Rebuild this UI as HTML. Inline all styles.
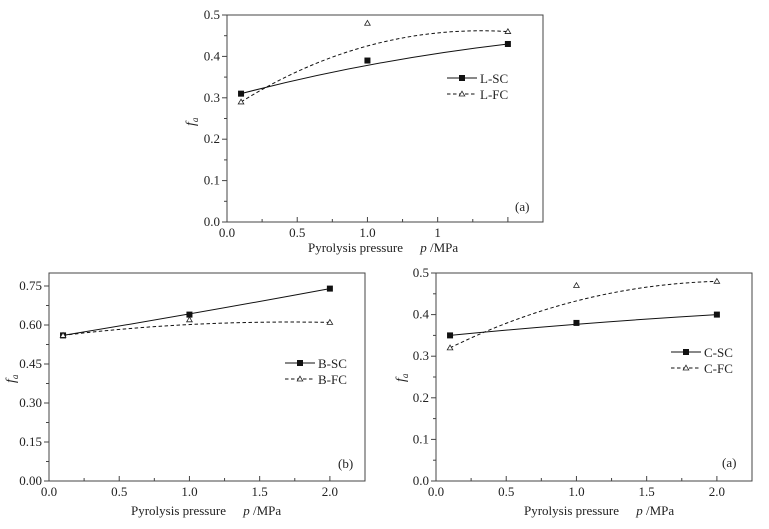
<!DOCTYPE html>
<html><head><meta charset="utf-8"><style>
body{margin:0;background:#fff}
svg text{font-family:"Liberation Serif",serif;fill:#222}
</style></head><body>
<svg id="s" width="769" height="524" xmlns="http://www.w3.org/2000/svg"></svg>
<script>
const xValues=[0.1,1.0,2.0];
const lscValues=[0.31,0.39,0.43];
const lfcValues=[0.29,0.48,0.46];
const bscValues=[0.56,0.64,0.74];
const bfcValues=[0.56,0.62,0.61];
const cscValues=[0.35,0.38,0.40];
const cfcValues=[0.32,0.47,0.48];
const xTickLabelsA=["0.0","0.5","1.0","1",""];
const xTickLabelsB=["0.0","0.5","1.0","1.5","2.0"];
const yTicksA=["0.0","0.1","0.2","0.3","0.4","0.5"];
const yTicksB=["0.00","0.15","0.30","0.45","0.60","0.75"];
const NS="http://www.w3.org/2000/svg";
const svg=document.getElementById('s');
function mk(tag,attrs,parent){const e=document.createElementNS(NS,tag);for(const k in attrs)e.setAttribute(k,attrs[k]);(parent||svg).appendChild(e);return e;}
function chart(o){
  const g=mk('g',{});
  
  
  const X=v=>o.x0+(v-0)/(2.25)*(o.x1-o.x0);
  const Y=v=>o.y1-(v/o.ymax)*(o.y1-o.y0);
  const box=mk('rect',{x:o.x0,y:o.y0,width:o.x1-o.x0,height:o.y1-o.y0,fill:'none',stroke:'#444','stroke-width':1},g);
  
  
  for(let i=0;i<=8;i++){const v=i*0.25,px=X(v);const major=i%2==0;
    mk('line',{x1:px,x2:px,y1:o.y1,y2:o.y1-(major?5:3),stroke:'#444'},g);
    if(major){const t=mk('text',{x:px,y:o.y1+15,'text-anchor':'middle','font-size':13},g);t.textContent=o.xl[i/2];
      
      }}
  const n=o.yl.length-1;const step=o.ystep;
  for(let i=0;i<=n*2;i++){const v=i*step/2;if(v>o.ymax+1e-9)break;const py=Y(v);const major=i%2==0;
    mk('line',{x1:o.x0,x2:o.x0-(major?5:3),y1:py,y2:py,stroke:'#444'},g);
    if(major){const t=mk('text',{x:o.x0-7,y:py+4,'text-anchor':'end','font-size':13},g);t.textContent=o.yl[i/2];
      
      }}
  o.series.forEach((s,k)=>{
    const p=xValues.map((x,i)=>[X(x),Y(s.v[i])]);
    const path=mk('path',{d:`M${p[0][0]},${p[0][1]} Q${p[1][0]},${p[1][1]} ${p[2][0]},${p[2][1]}`,fill:'none',stroke:'#111','stroke-width':1,'stroke-dasharray':s.dash?'3.5,2.5':'none'},g);
    
    
    p.forEach(q=>{const m=marker(q[0],q[1],s.dash,g);
      
      });
    const ly=o.leg[1]+k*16;
    const ll=mk('line',{x1:o.leg[0],x2:o.leg[0]+30,y1:ly,y2:ly,stroke:'#111','stroke-dasharray':s.dash?'3.5,2.5':'none'},g);
    
    
    marker(o.leg[0]+15,ly,s.dash,g);
    const lt=mk('text',{x:o.leg[0]+33,y:ly+5,'font-size':13},g);lt.textContent=s.label;
    
    
  });
  const pl=mk('text',{x:o.pl[0],y:o.pl[1],'font-size':13},g);pl.textContent=o.panel;
  
  
  const xt=mk('text',{x:o.xt[0],y:o.xt[1],'font-size':13},g);
  xt.innerHTML='Pyrolysis pressure <tspan dx="14" font-style="italic">p</tspan> /MPa';
  
  
  const yt=mk('text',{x:0,y:0,'font-size':14,transform:`translate(${o.yt[0]},${o.yt[1]}) rotate(-90)`,'font-style':'italic'},g);
  yt.innerHTML='f<tspan font-size="9" dy="3">a</tspan>';
  
  
}
function marker(x,y,tri,g){
  if(tri)return mk('path',{d:`M${x},${y-2.8} L${x+2.8},${y+2} L${x-2.8},${y+2} Z`,fill:'#fff',stroke:'#222','stroke-width':0.8},g);
  return mk('rect',{x:x-3,y:y-3,width:6,height:6,fill:'#111'},g);
}
chart({name:'chart-l',x0:227,x1:543,y0:15,y1:222,ymax:0.5,ystep:0.1,xl:xTickLabelsA,yl:yTicksA,
  series:[{v:lscValues,label:'L-SC',dash:false},{v:lfcValues,label:'L-FC',dash:true}],
  leg:[447,78],pl:[515,211],xt:[308,252],yt:[195,126],panel:'(a)'});
chart({name:'chart-b',x0:49,x1:365,y0:273,y1:481,ymax:0.8,ystep:0.15,xl:xTickLabelsB,yl:yTicksB,
  series:[{v:bscValues,label:'B-SC',dash:false},{v:bfcValues,label:'B-FC',dash:true}],
  leg:[285,363],pl:[338,468],xt:[131,515],yt:[15,383],panel:'(b)'});
chart({name:'chart-c',x0:436,x1:752,y0:273,y1:481,ymax:0.5,ystep:0.1,xl:xTickLabelsB,yl:yTicksA,
  series:[{v:cscValues,label:'C-SC',dash:false},{v:cfcValues,label:'C-FC',dash:true}],
  leg:[671,352],pl:[722,467],xt:[524,515],yt:[405,382],panel:'(a)'});
</script>
</body></html>
